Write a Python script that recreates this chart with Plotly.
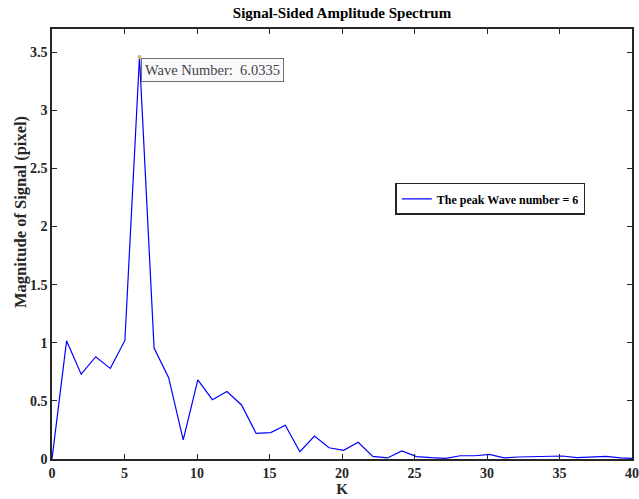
import plotly.graph_objects as go

step = 6.0335 / 6
wave_index = list(range(41))
magnitude = [0.0, 1.017, 0.73, 0.88, 0.78, 1.02, 3.46, 0.955, 0.70, 0.164,
             0.68, 0.51, 0.58, 0.465, 0.22, 0.227, 0.29, 0.063, 0.198, 0.097,
             0.075, 0.144, 0.023, 0.009, 0.069, 0.02, 0.011, 0.006, 0.028, 0.028,
             0.04, 0.009, 0.017, 0.02, 0.023, 0.026, 0.012, 0.015, 0.023, 0.01,
             0.005]
k_values = [i * step for i in wave_index]
peak_k = 6.0335
peak_val = 3.46

title_text = "Signal-Sided Amplitude Spectrum"
x_label = "K"
y_label = "Magnitude of Signal (pixel)"
legend_label = "The peak Wave number = 6"
tip_text = "Wave Number:&nbsp; 6.0335"

FONT = "Liberation Serif"
AX = "#262626"

fig = go.Figure()
fig.add_trace(go.Scatter(x=k_values, y=magnitude, mode="lines",
                         line=dict(color="#0000ff", width=1.2),
                         name=legend_label))
fig.add_trace(go.Scatter(x=[peak_k], y=[peak_val], mode="markers",
                         marker=dict(color="#c8b878", size=4),
                         showlegend=False, hoverinfo="skip"))

fig.add_annotation(x=peak_k, y=peak_val, text=tip_text, showarrow=False,
                   xanchor="left", yanchor="top", xshift=2, yshift=-1,
                   font=dict(family=FONT, size=14.5, color="#444444"),
                   bgcolor="#f9f9fc", bordercolor="#707070", borderwidth=1,
                   borderpad=3)

# y-axis label placed as rotated text
fig.add_annotation(xref="paper", yref="paper", x=(20 - 52) / 580,
                   y=(459 - 212) / 430, text=y_label, textangle=-90,
                   showarrow=False, xanchor="center", yanchor="middle",
                   font=dict(family=FONT, size=16.5, color=AX, weight="bold"))

axis_common = dict(showline=True, linecolor=AX, linewidth=1.5, mirror="allticks",
                   ticks="inside", ticklen=5, tickcolor=AX, tickwidth=1,
                   showgrid=False, zeroline=False, automargin=False,
                   tickfont=dict(family=FONT, size=14, color=AX, weight="bold"))

fig.update_layout(
    width=639, height=499,
    margin=dict(l=52, r=7, t=29, b=40),
    paper_bgcolor="white", plot_bgcolor="white",
    title=dict(text=title_text, x=(52 + 632) / 2 / 639, xanchor="center",
               y=1 - 13 / 499, yanchor="middle",
               font=dict(family=FONT, size=15, color="black", weight="bold")),
    xaxis=dict(range=[0, 40], tickmode="array", tickvals=list(range(0, 41, 5)),
               title=dict(text=x_label, standoff=2,
                          font=dict(family=FONT, size=15, color=AX, weight="bold")),
               **axis_common),
    yaxis=dict(range=[0, 3.7], tickmode="array",
               tickvals=[0, 0.5, 1, 1.5, 2, 2.5, 3, 3.5],
               **axis_common),
    legend=dict(x=0.592, y=0.642, xanchor="left", yanchor="top",
                bgcolor="white", bordercolor=AX, borderwidth=1.5,
                font=dict(family=FONT, size=12, color="black", weight="bold"),
                itemwidth=30, tracegroupgap=0),
    showlegend=True,
)

fig.write_html("out.html")
